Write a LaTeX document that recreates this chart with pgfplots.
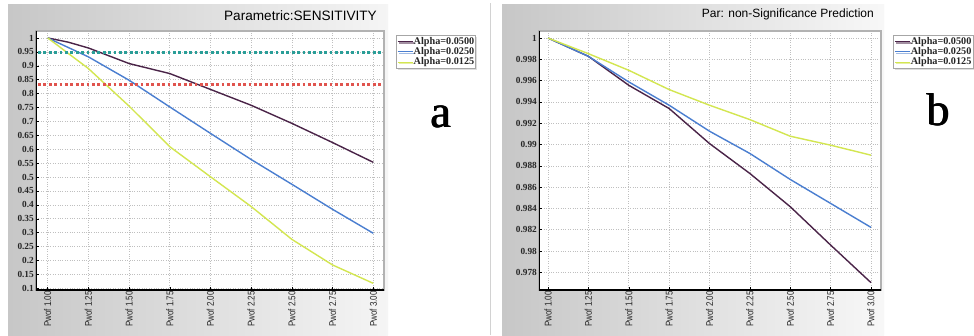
\documentclass[border=0pt]{standalone}
\usepackage{fontspec}
\setmainfont{Liberation Serif}
\newfontfamily\sans{Liberation Sans}
\usepackage{graphicx}
\usepackage{pgfplots}
\pgfplotsset{compat=1.18}
\usetikzlibrary{shadows}
\definecolor{cpur}{HTML}{4A2448}
\definecolor{cblu}{HTML}{4A7ED0}
\definecolor{cyel}{HTML}{D3E650}
\definecolor{cteal}{HTML}{2A9E98}
\definecolor{cred}{HTML}{E0544E}
\newcommand\pw[1]{\scalebox{0.82}[1]{Pwof #1}}
\pgfplotsset{
  panel/.style={
    scale only axis, height=259pt,
    axis background/.style={fill=white},
    axis line style={draw=gray!60, line width=1.4pt},
    xmajorgrids, ymajorgrids,
    grid style={dotted, gray!50, line width=0.6pt},
    xtick={1,1.25,...,3.01},
    xticklabels={\pw{1.00},\pw{1.25},\pw{1.50},\pw{1.75},\pw{2.00},\pw{2.25},\pw{2.50},\pw{2.75},\pw{3.00}},
    x tick label style={rotate=90, anchor=east, font=\sans\fontsize{9.8}{10}\selectfont, text=black!85, inner sep=1pt},
    y tick label style={font=\bfseries\fontsize{9.3}{10}\selectfont, inner sep=2pt, text=black!85},
    /pgf/number format/assume math mode=true,
    tick style={black, line width=0.5pt},
    major tick length=3pt,
    xtick pos=bottom, ytick pos=left,
    title style={at={(1,1)}, anchor=south east, inner sep=1pt, yshift=3.5pt, xshift=-6pt},
    legend cell align=left,
    legend style={font=\bfseries\fontsize{10.2}{11}\selectfont, draw=gray!70, line width=0.8pt,
      inner xsep=1pt, inner ysep=1.5pt, row sep=0.4pt,
      drop shadow={shadow xshift=1.5pt, shadow yshift=-1.5pt, fill=gray!50},
      nodes={inner sep=0.6pt, text height=7pt, text depth=1.6pt, text=black!85}},
    legend image code/.code={\draw[#1, line width=0.9pt] (0pt,0pt) -- (15pt,0pt);},
  }
}
\begin{document}
\begin{tikzpicture}[x=1pt,y=1pt]
\useasboundingbox (0,0) rectangle (974,335);
\clip (0,0) rectangle (974,335);
\fill[white] (0,0) rectangle (974,335);
\shade[left color=black!22, right color=black!4] (8,0) rectangle (388,330);
\shade[left color=black!22, right color=black!3] (502,0) rectangle (884,330);
\draw[gray!35, line width=0.8pt] (490,0) -- (490,332);
% Panel a
\begin{axis}[panel, at={(36pt,45pt)}, anchor=south west, width=348pt,
  xmin=0.928, xmax=3.066, ymin=0.094, ymax=1.025,
  ytick={0.1,0.15,...,1.01},
  yticklabels={0.1,0.15,0.2,0.25,0.3,0.35,0.4,0.45,0.5,0.55,0.6,0.65,0.7,0.75,0.8,0.85,0.9,0.95,1},
  title={Parametric:SENSITIVITY},
  title style={font=\sans\fontsize{13.6}{15}\selectfont},
  legend style={at={(1.034,0.985)}, anchor=north west}]
\addplot[cpur, line width=1.4pt] coordinates {(1,1.0)(1.125,0.985)(1.25,0.964)(1.375,0.936)(1.5,0.908)(1.75,0.872)(2.0,0.815)(2.25,0.758)(2.5,0.693)(2.75,0.624)(3.0,0.553)};
\addplot[cblu, line width=1.4pt] coordinates {(1,1.0)(1.25,0.932)(1.5,0.848)(1.75,0.752)(2.0,0.657)(2.25,0.563)(2.5,0.474)(2.75,0.384)(3.0,0.298)};
\addplot[cyel, line width=1.4pt] coordinates {(1,1.0)(1.25,0.89)(1.5,0.755)(1.75,0.609)(2.0,0.501)(2.25,0.394)(2.5,0.276)(2.75,0.184)(3.0,0.118)};
\legend{Alpha=0.0500,Alpha=0.0250,Alpha=0.0125}
\addplot[cteal, line width=3pt, dash pattern=on 2.8pt off 2.6pt, forget plot] coordinates {(0.94,0.946)(3.06,0.946)};
\addplot[cred, line width=3pt, dash pattern=on 2.8pt off 2.6pt, forget plot] coordinates {(0.94,0.833)(3.06,0.833)};
\draw[black, line width=1.6pt] (rel axis cs:0,1) -- (rel axis cs:0,0) -- (rel axis cs:1,0);
\end{axis}
% Panel b
\begin{axis}[panel, at={(539pt,45pt)}, anchor=south west, width=342pt,
  xmin=0.944, xmax=3.062, ymin=0.97634, ymax=1.00066,
  ytick={0.978,0.98,...,1.0001},
  yticklabels={0.978,0.98,0.982,0.984,0.986,0.988,0.99,0.992,0.994,0.996,0.998,1},
  title={Par: non-Significance Prediction},
  title style={font=\sans\fontsize{12}{14}\selectfont},
  legend style={at={(1.035,0.985)}, anchor=north west}]
\addplot[cpur, line width=1.4pt] coordinates {(1,1.0)(1.25,0.99828)(1.5,0.99556)(1.75,0.99338)(2.0,0.99009)(2.25,0.98728)(2.5,0.98416)(2.75,0.98056)(3.0,0.97703)};
\addplot[cblu, line width=1.4pt] coordinates {(1,1.0)(1.25,0.99828)(1.5,0.99588)(1.75,0.99369)(2.0,0.99125)(2.25,0.98916)(2.5,0.98672)(2.75,0.98447)(3.0,0.98222)};
\addplot[cyel, line width=1.4pt] coordinates {(1,1.0)(1.25,0.99853)(1.5,0.99697)(1.75,0.99516)(2.0,0.99369)(2.25,0.99234)(2.5,0.99078)(2.75,0.98994)(3.0,0.989)};
\legend{Alpha=0.0500,Alpha=0.0250,Alpha=0.0125}
\draw[black, line width=1.6pt] (rel axis cs:0,1) -- (rel axis cs:0,0) -- (rel axis cs:1,0);
\end{axis}
\foreach \dx in {0,0.5,1.0} {
  \node[font=\fontsize{46}{48}\selectfont, anchor=base, text=black] at (440.5+\dx,207) {a};
  \node[font=\fontsize{46}{48}\selectfont, anchor=base, text=black] at (937.5+\dx,209) {b};
}
\end{tikzpicture}
\end{document}
